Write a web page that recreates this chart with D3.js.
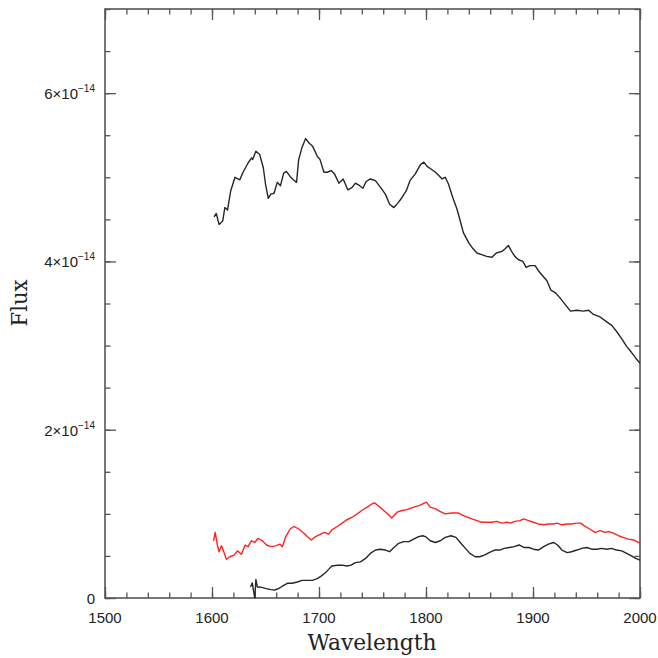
<!DOCTYPE html>
<html>
<head>
<meta charset="utf-8">
<script src="https://cdn.jsdelivr.net/npm/d3@7/dist/d3.min.js"></script>
<style>
  html, body { margin: 0; padding: 0; background: #fff; }
  svg { display: block; }
</style>
</head>
<body>
<svg id="chart" width="658" height="658"></svg>
<script>
// Spectra: wavelength (Å) and flux in units of 1e-14
const upperWave = [1602,1604,1606.6,1610,1612,1614.5,1617.5,1621.5,1626,1629,1633.7,1637,1638,1641,1644.6,1648,1650,1652.6,1655,1658,1661,1664,1667,1669.5,1673,1676,1679,1681,1684,1687.5,1690.5,1694,1698.4,1701,1704.6,1707.7,1711.5,1714.5,1718.6,1722.6,1727,1731,1734,1738,1741,1744,1748,1752.7,1757.5,1762,1766,1770,1773.5,1777.6,1781.6,1785,1790,1794.8,1798,1801,1805.6,1808.8,1812,1815,1818,1821,1825,1829,1832,1835,1840,1844,1847.6,1852,1856.7,1861.6,1865.7,1871,1874,1877,1880,1883,1886.5,1890.5,1893.6,1897,1902,1905,1909,1913,1916.7,1920.7,1925,1930,1935,1941,1947,1952,1956.5,1962.7,1968,1973.6,1978,1983,1987.5,1992,1996,2000];
const upperFlux = [4.53,4.57,4.44,4.48,4.64,4.61,4.84,5.0,4.97,5.06,5.17,5.23,5.21,5.31,5.27,5.11,4.92,4.75,4.80,4.81,4.94,4.90,5.05,5.07,5.01,4.97,4.94,5.21,5.35,5.46,5.41,5.37,5.25,5.21,5.06,5.06,5.08,5.04,4.93,4.98,4.85,4.88,4.93,4.90,4.87,4.95,4.98,4.96,4.88,4.80,4.68,4.64,4.69,4.76,4.84,4.96,5.04,5.15,5.18,5.13,5.09,5.06,5.02,4.98,5.00,4.92,4.76,4.62,4.48,4.34,4.22,4.15,4.10,4.08,4.06,4.05,4.10,4.12,4.15,4.19,4.12,4.06,4.02,4.00,3.93,3.95,3.95,3.89,3.83,3.77,3.66,3.63,3.57,3.49,3.41,3.42,3.41,3.42,3.37,3.34,3.29,3.24,3.17,3.08,2.99,2.92,2.85,2.79];

const redWave = [1601.4,1603,1605,1606.6,1608.8,1610.7,1613.4,1616.8,1620.6,1623.8,1627.5,1631,1633.7,1636.8,1640,1643,1647,1651,1655,1659.5,1663.5,1665.7,1669,1673,1676.6,1681,1686,1689,1692.7,1696.8,1701.5,1705,1709,1712,1717,1721.6,1726,1731,1735.7,1740,1745,1749.7,1752,1756,1760.5,1765,1768,1773,1777.6,1782,1788.5,1794,1800.4,1804,1809,1813,1818,1824,1830.5,1835,1841,1847.6,1852,1857,1861.6,1866,1871,1875.6,1879,1883,1888,1891,1896,1900.5,1905,1910,1914.5,1919,1922.6,1927,1932,1936,1941,1944.6,1948.7,1953,1958,1962.7,1967,1971,1975,1980,1984,1989,1994,1998.6,2000];
const redFlux = [0.68,0.78,0.63,0.55,0.62,0.56,0.46,0.49,0.51,0.56,0.52,0.63,0.61,0.68,0.66,0.71,0.68,0.63,0.61,0.62,0.64,0.61,0.73,0.82,0.85,0.82,0.77,0.73,0.69,0.73,0.76,0.78,0.76,0.81,0.85,0.89,0.93,0.96,1.00,1.04,1.08,1.12,1.13,1.09,1.04,0.99,0.95,1.02,1.04,1.05,1.08,1.10,1.14,1.08,1.06,1.03,1.00,1.01,1.01,0.98,0.95,0.92,0.90,0.90,0.90,0.91,0.89,0.90,0.89,0.91,0.92,0.94,0.92,0.90,0.88,0.87,0.88,0.88,0.89,0.87,0.88,0.88,0.89,0.89,0.85,0.82,0.78,0.80,0.78,0.79,0.77,0.74,0.72,0.70,0.69,0.66,0.66];

const lowerWave = [1636,1637.7,1638.6,1640,1641,1642.4,1645.5,1650,1655,1658.6,1662.6,1665.7,1670.4,1675,1679.7,1684.3,1689,1693.7,1698.4,1702,1706,1709,1712,1717,1721.6,1726,1730,1734,1738.8,1743.5,1748,1752.8,1757.5,1762,1766,1770,1774.5,1779,1784,1788.5,1793,1797,1799.4,1804,1808.8,1813.4,1818,1823.4,1828,1832,1836.8,1841,1846,1850,1854.5,1859,1864,1869,1873,1878,1882.5,1887,1891.8,1896,1900.5,1905,1910,1914.5,1919,1923,1927,1932,1936,1941,1945.6,1950,1955,1960,1964,1969,1973.6,1978,1983,1987.5,1992,1996,2000];
const lowerFlux = [0.13,0.18,0.10,0.0,0.22,0.13,0.13,0.115,0.10,0.095,0.115,0.14,0.175,0.175,0.19,0.21,0.21,0.21,0.23,0.26,0.30,0.34,0.38,0.39,0.39,0.38,0.39,0.42,0.43,0.47,0.53,0.57,0.58,0.57,0.55,0.60,0.65,0.67,0.67,0.70,0.73,0.74,0.73,0.68,0.66,0.68,0.72,0.74,0.72,0.66,0.59,0.53,0.49,0.49,0.51,0.54,0.57,0.57,0.59,0.60,0.61,0.63,0.60,0.60,0.58,0.57,0.61,0.64,0.66,0.63,0.57,0.54,0.55,0.57,0.59,0.60,0.58,0.58,0.59,0.58,0.59,0.57,0.56,0.53,0.50,0.47,0.45];

// Axis ticks
const xMajor = [1500,1600,1700,1800,1900,2000];
const xMinor = d3.range(1500, 2001, 20);
const yMajor = [0,2,4,6];
const yMinor = d3.range(0, 7.01, 0.5);
const yExponent = "\u221214";

const svg = d3.select("#chart");
const L = 105, R = 640, T = 9, B = 598;

const x = d3.scaleLinear().domain([1500, 2000]).range([L, R]);
const y = d3.scaleLinear().domain([0, 7]).range([B, T]);

const frameColor = "#555";

// Inward ticks on all four sides
function tickAxis(axisFn, scale, values, size, transform) {
  const g = svg.append("g").attr("transform", transform)
    .call(axisFn(scale).tickValues(values).tickSize(-size).tickFormat(""));
  g.select(".domain").remove();
  g.selectAll("line").attr("stroke", frameColor).attr("stroke-width", 1.3);
  return g;
}
tickAxis(d3.axisBottom, x, xMinor, 5.5, `translate(0,${B})`);
tickAxis(d3.axisBottom, x, xMajor, 11, `translate(0,${B})`);
tickAxis(d3.axisTop, x, xMinor, 5.5, `translate(0,${T})`);
tickAxis(d3.axisTop, x, xMajor, 11, `translate(0,${T})`);
tickAxis(d3.axisLeft, y, yMinor, 5.5, `translate(${L},0)`);
tickAxis(d3.axisLeft, y, yMajor, 11, `translate(${L},0)`);
tickAxis(d3.axisRight, y, yMinor, 5.5, `translate(${R},0)`);
tickAxis(d3.axisRight, y, yMajor, 11, `translate(${R},0)`);

// Frame
svg.append("rect")
  .attr("x", L).attr("y", T).attr("width", R - L).attr("height", B - T)
  .attr("fill", "none").attr("stroke", frameColor).attr("stroke-width", 1.6);

// Tick labels
const labelFont = "'Liberation Sans', Arial, sans-serif";
svg.append("g").selectAll("text").data(xMajor).join("text")
  .attr("x", d => x(d)).attr("y", 623)
  .attr("text-anchor", "middle")
  .attr("font-family", labelFont).attr("font-size", 15).attr("fill", "#222")
  .text(d => d);

const yl = svg.append("g").selectAll("text").data(yMajor).join("text")
  .attr("x", L - 10).attr("y", d => y(d) + 6)
  .attr("text-anchor", "end")
  .attr("font-family", labelFont).attr("font-size", 15).attr("fill", "#222");
yl.each(function(d) {
  const t = d3.select(this);
  if (d === 0) { t.text("0"); return; }
  t.append("tspan").text(d + "\u00d710");
  t.append("tspan").attr("font-size", 10).attr("dy", -7).text(yExponent);
});

// Axis titles
const titleFont = "'DejaVu Serif', 'Liberation Serif', serif";
svg.append("text")
  .attr("x", 372).attr("y", 650)
  .attr("text-anchor", "middle")
  .attr("font-family", titleFont).attr("font-size", 22).attr("fill", "#222")
  .attr("textLength", 129).attr("lengthAdjust", "spacingAndGlyphs")
  .text("Wavelength");
svg.append("text")
  .attr("transform", "translate(27,303) rotate(-90)")
  .attr("text-anchor", "middle")
  .attr("font-family", titleFont).attr("font-size", 22).attr("fill", "#222")
  .attr("textLength", 47).attr("lengthAdjust", "spacingAndGlyphs")
  .text("Flux");

// Spectra
const line = d3.line().x(d => x(d[0])).y(d => y(d[1]));
const series = [
  { wave: upperWave, flux: upperFlux, color: "#262626" },
  { wave: redWave, flux: redFlux, color: "#ff2222" },
  { wave: lowerWave, flux: lowerFlux, color: "#262626" }
];
svg.append("g").selectAll("path").data(series).join("path")
  .attr("d", s => line(d3.zip(s.wave, s.flux)))
  .attr("fill", "none")
  .attr("stroke", s => s.color)
  .attr("stroke-width", 1.4)
  .attr("stroke-linejoin", "round");
</script>
</body>
</html>
